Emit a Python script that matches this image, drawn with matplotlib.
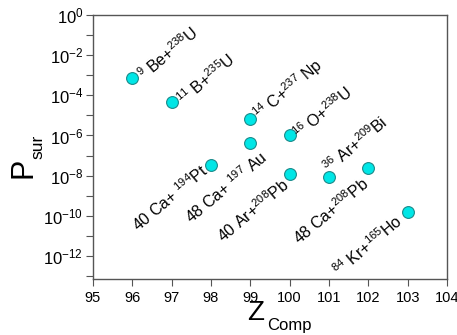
import matplotlib.pyplot as plt
import numpy as np

plt.rcParams['font.family'] = ['Liberation Sans', 'DejaVu Sans']
plt.rcParams['mathtext.fontset'] = 'custom'
plt.rcParams['mathtext.rm'] = 'Liberation Sans'
plt.rcParams['mathtext.it'] = 'Liberation Sans'

# compound nucleus charge and survival probability
z_comp = [96, 97, 98, 99, 99, 100, 100, 101, 102, 103]
p_sur = [7e-4, 4.8e-5, 3.4e-8, 6.6e-6, 4.4e-7, 1.0e-6, 1.2e-8, 8.3e-9, 2.5e-8, 1.5e-10]
reactions = [r'$^{9}$ Be+$^{238}$U', r'$^{11}$ B+$^{235}$U', r'40 Ca+ $^{194}$Pt',
             r'$^{14}$ C+$^{237}$ Np', r'48 Ca+ $^{197}$ Au', r'$^{16}$ O+$^{238}$U',
             r'40 Ar+$^{208}$Pb', r'$^{36}$ Ar+$^{209}$Bi', r'48 Ca+$^{208}$Pb',
             r'$^{84}$ Kr+$^{165}$Ho']
side = ['r', 'r', 'l', 'r', 'l', 'r', 'l', 'r', 'l', 'l']
offsets = [(8, 2), (8, 0), (-5, -3), (6, 2), (14, -12), (6, 0), (-3, -8), (-3, 8), (-2, -14), (-8, -6)]

fig = plt.figure(figsize=(4.57, 3.35), dpi=100)
ax = fig.add_axes([93 / 457, 1 - 279 / 335, 354 / 457, 264 / 335])

ax.plot(z_comp, p_sur, 'o', color='#00e6e6', markeredgecolor='#1a8a8a',
        markeredgewidth=0.8, markersize=8.5, zorder=3)

for z, p, txt, s, off in zip(z_comp, p_sur, reactions, side, offsets):
    ax.annotate(txt, (z, p), xytext=off, textcoords='offset pixels',
                rotation=40, rotation_mode='anchor', fontsize=11.5,
                ha='left' if s == 'r' else 'right', va='center')

ax.set_yscale('log')
ax.set_xlim(95, 104)
ax.set_ylim(10 ** -13.15, 1)
ax.set_xticks(np.arange(95, 105))
ax.set_yticks([10.0 ** k for k in range(0, -13, -2)])
ax.set_yticks([10.0 ** k for k in range(-1, -14, -2)], minor=True)
ax.set_yticklabels([r'$10^{%d}$' % k for k in range(0, -13, -2)])
ax.tick_params(axis='both', which='both', direction='out', length=5,
               width=0.8, color='#555555', top=False, right=False)
ax.tick_params(axis='x', labelsize=10.5, pad=4)
ax.tick_params(axis='y', labelsize=12, pad=2)
ax.tick_params(axis='y', which='minor', labelleft=False)
for sp in ax.spines.values():
    sp.set_color('#555555')
    sp.set_linewidth(1)

# axis titles built from a large letter and a smaller subscript
fig.text(256 / 457, 1 - 320 / 335, 'Z', fontsize=20, ha='center', va='baseline')
fig.text(267 / 457, 1 - 330 / 335, 'Comp', fontsize=12, ha='left', va='baseline')
fig.text(32 / 457, 1 - 168 / 335, 'P', fontsize=22, rotation=90,
         rotation_mode='anchor', ha='center', va='baseline')
fig.text(42 / 457, 1 - 146.5 / 335, 'sur', fontsize=12.5, rotation=90,
         rotation_mode='anchor', ha='center', va='baseline')

fig.savefig('out.png', dpi=100)
